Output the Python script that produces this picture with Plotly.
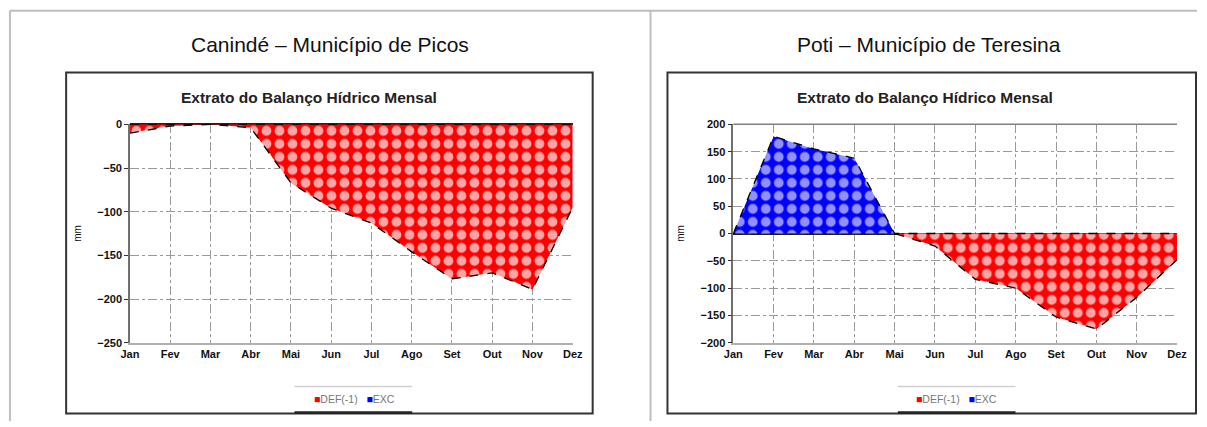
import plotly.graph_objects as go

# ---- data ----
months = ["Jan", "Fev", "Mar", "Abr", "Mai", "Jun", "Jul", "Ago", "Set", "Out", "Nov", "Dez"]
picos_def = [-10, -2, 0, -4, -67, -96, -113, -146, -177, -170, -189, -95]
picos_exc = [0, 0, 0, 0, 0, 0, 0, 0, 0, 0, 0, 0]
teresina_def = [0, 0, 0, 0, 0, -23, -84, -100, -153, -175, -117, -48]
teresina_exc = [0, 178, 155, 138, 0, 0, 0, 0, 0, 0, 0, 0]
panel_titles = ["Canindé – Município de Picos", "Poti – Município de Teresina"]
chart_title = "Extrato do Balanço Hídrico Mensal"
legend_names = ["DEF(-1)", "EXC"]

W, H = 1207, 427
# map target pixel positions to paper coordinates (compensating the capture frame)
def px(x):
    return max(0.0, min(1.0, ((x - 7.7) / 0.987) / W))
def py(y):
    return max(0.0, min(1.0, 1 - ((y - 5.25) / 0.975) / H))

xs = list(range(len(months)))

fig = go.Figure()

red_pattern = dict(shape=".", bgcolor="#ff0000", fgcolor="#ffa4a4", size=13, solidity=0.45, fillmode="replace")
blue_pattern = dict(shape=".", bgcolor="#0000ff", fgcolor="#9090ff", size=13, solidity=0.45, fillmode="replace")

panels = [
    dict(defv=picos_def, exc=picos_exc, xa="x", ya="y"),
    dict(defv=teresina_def, exc=teresina_exc, xa="x2", ya="y2"),
]
for p in panels:
    fig.add_trace(go.Scatter(
        x=xs, y=p["defv"], xaxis=p["xa"], yaxis=p["ya"], mode="lines",
        fill="tozeroy", fillpattern=red_pattern, fillcolor="#ff0000",
        line=dict(color="black", width=1.3, dash="dash"),
        name=legend_names[0], showlegend=False, hoverinfo="skip"))
    fig.add_trace(go.Scatter(
        x=xs, y=p["exc"], xaxis=p["xa"], yaxis=p["ya"], mode="lines",
        fill="tozeroy", fillpattern=blue_pattern, fillcolor="#0000ff",
        line=dict(color="black", width=1.3, dash="dash"),
        name=legend_names[1], showlegend=False, hoverinfo="skip"))

tickfont = dict(family="Liberation Sans", size=11, color="#111", weight="bold")

common_x = dict(
    tickmode="array", tickvals=xs, ticktext=months, range=[0, 11],
    showgrid=True, gridcolor="#9a9a9a", griddash="dashdot", gridwidth=1,
    showline=True, linecolor="#b0b0b0", linewidth=1.5,
    ticks="", tickfont=tickfont, zeroline=False, fixedrange=True,
)
common_y = dict(
    dtick=50, showgrid=True, gridcolor="#9a9a9a", griddash="dashdot", gridwidth=1,
    showline=True, linecolor="#707070", linewidth=1.5,
    ticks="outside", ticklen=4, tickcolor="#333", tickfont=tickfont,
    zeroline=True, zerolinecolor="#222", zerolinewidth=1.5, fixedrange=True,
    title=dict(text="mm", font=dict(family="Liberation Sans", size=10, color="#111"), standoff=14),
)

fig.update_layout(
    width=W, height=H, margin=dict(l=0, r=0, t=0, b=0),
    paper_bgcolor="white", plot_bgcolor="white", showlegend=False,
    xaxis=dict(common_x, domain=[px(129), px(573)], anchor="y"),
    yaxis=dict(common_y, domain=[py(343), py(124)], anchor="x", range=[-250, 0]),
    xaxis2=dict(common_x, domain=[px(734), px(1179)], anchor="y2"),
    yaxis2=dict(common_y, domain=[py(343), py(124)], anchor="x2", range=[-200, 200]),
)

shapes = []
grey = "#bdbdbd"
shapes.append(dict(type="line", xref="paper", yref="paper", x0=0.0008, x1=1, y0=py(10), y1=py(10), line=dict(color=grey, width=2)))
shapes.append(dict(type="line", xref="paper", yref="paper", x0=0.0008, x1=0.0008, y0=py(10), y1=0, line=dict(color=grey, width=2)))
shapes.append(dict(type="line", xref="paper", yref="paper", x0=px(651), x1=px(651), y0=py(10), y1=0, line=dict(color=grey, width=2)))
for (x0, x1) in [(65, 593), (668, 1198)]:
    shapes.append(dict(type="rect", xref="paper", yref="paper", x0=px(x0), x1=px(x1), y0=py(414), y1=py(72),
                       line=dict(color="#333", width=2)))
for (x0, x1) in [(294, 412), (899, 1017)]:
    shapes.append(dict(type="line", xref="paper", yref="paper", x0=px(x0), x1=px(x1), y0=py(387), y1=py(387),
                       line=dict(color="#d0d0d0", width=1.5)))
    shapes.append(dict(type="line", xref="paper", yref="paper", x0=px(x0), x1=px(x1), y0=py(413), y1=py(413),
                       line=dict(color="#222", width=2.5)))
shapes.append(dict(type="line", xref="x2 domain", yref="y2 domain", x0=0, x1=1, y0=1, y1=1, line=dict(color="#808080", width=1.5)))
fig.update_layout(shapes=shapes)

annotations = []
for cx, t in [(330, panel_titles[0]), (930, panel_titles[1])]:
    annotations.append(dict(text=t, xref="paper", yref="paper", x=px(cx), y=py(44), xanchor="center", yanchor="middle",
                            showarrow=False, font=dict(family="Liberation Sans", size=21, color="#111")))
for cx in [309, 926]:
    annotations.append(dict(text="<b>" + chart_title + "</b>", xref="paper", yref="paper", x=px(cx), y=py(97),
                            xanchor="center", yanchor="middle", showarrow=False,
                            font=dict(family="Liberation Sans", size=15.5, color="#222")))
for cx in [354, 958]:
    annotations.append(dict(
        text="<span style='color:#ff0000'>■</span><span style='color:#777'>" + legend_names[0] + "</span>"
             "   <span style='color:#0000ff'>■</span><span style='color:#777'>" + legend_names[1] + "</span>",
        xref="paper", yref="paper", x=px(cx), y=py(400), xanchor="center", yanchor="middle",
        showarrow=False, font=dict(family="Liberation Sans", size=10.5)))
fig.update_layout(annotations=annotations)

fig.write_html("out.html", config={"displayModeBar": False},
               post_script="document.body.style.margin='0';document.body.style.overflow='hidden';")
